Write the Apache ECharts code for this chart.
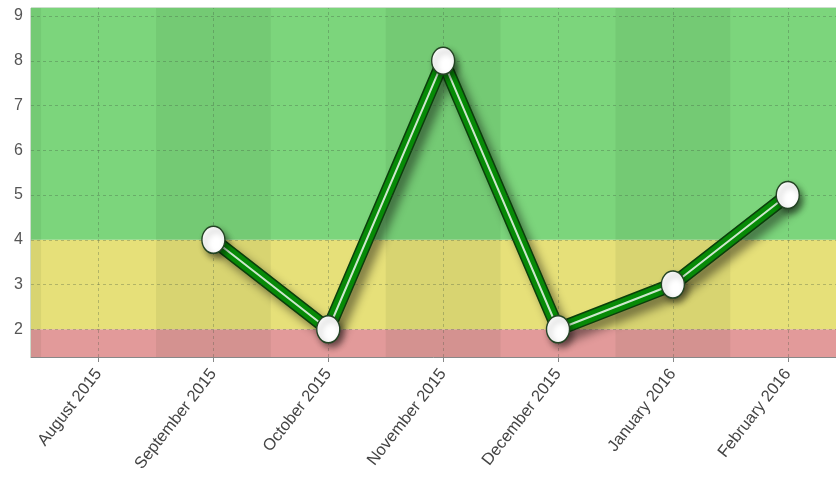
<!DOCTYPE html>
<html>
<head>
<meta charset="utf-8">
<script src="https://cdn.jsdelivr.net/npm/echarts@6/dist/echarts.min.js"></script>
<style>
html,body{margin:0;padding:0;background:#fff;}
#c{width:836px;height:478px;}
</style>
</head>
<body>
<div id="c"></div>
<script>
// ---- data ----
const months = ['August 2015','September 2015','October 2015','November 2015','December 2015','January 2016','February 2016'];
const values = [null, 4, 2, 8, 2, 3, 5];
const yTicks = [2,3,4,5,6,7,8,9];
const xTicks = [0,1,2,3,4,5,6];
const zoneEdges = [2, 4];          // red < 2 <= yellow < 4 <= green

// ---- layout constants ----
const X_MIN = -0.588, X_MAX = 6.42;
const Y_MIN = 1.38, Y_MAX = 9.18;

const seriesData = values.map((v, i) => [i, v]);

const bandColors = ['#e29a9a', '#e6e079', '#7cd57c'];
const zoneBounds = [Y_MIN, zoneEdges[0], zoneEdges[1], Y_MAX];
const bands = [];
for (let k = 0; k < 3; k++) {
  bands.push([
    { xAxis: X_MIN, yAxis: zoneBounds[k], itemStyle: { color: bandColors[k] } },
    { xAxis: X_MAX, yAxis: zoneBounds[k + 1] }
  ]);
}
// darker alternating columns centered on categories
const darkCols = [];
for (let i = -1; i <= 7; i += 2) {
  const a = Math.max(X_MIN, i - 0.5), b = Math.min(X_MAX, i + 0.5);
  if (b > a) darkCols.push([
    { xAxis: a, yAxis: Y_MIN, itemStyle: { color: 'rgba(0,40,0,0.06)' } },
    { xAxis: b, yAxis: Y_MAX }
  ]);
}

const gridLineStyle = { type: [3, 3], color: 'rgba(60,80,60,0.3)', width: 1 };
const gridLines = [];
xTicks.forEach(x => gridLines.push({ xAxis: x }));
yTicks.forEach(y => gridLines.push({ yAxis: y }));

const chart = echarts.init(document.getElementById('c'), null, { renderer: 'canvas' });
chart.setOption({
  animation: false,
  backgroundColor: '#ffffff',
  grid: { left: 31, right: 0, top: 8, bottom: 121, show: true, borderColor: 'rgba(60,120,60,0.5)', borderWidth: 1, backgroundColor: 'transparent' },
  xAxis: {
    type: 'value', min: X_MIN, max: X_MAX,
    axisLine: { show: true, onZero: false, lineStyle: { color: '#888' } },
    axisTick: { show: true, customValues: xTicks, length: 5, lineStyle: { color: '#888' } },
    splitLine: { show: false },
    axisLabel: {
      customValues: xTicks,
      rotate: 52, margin: 14,
      color: '#444', fontSize: 16.5, fontFamily: 'Liberation Sans, Arial, sans-serif',
      formatter: v => months[Math.round(v)]
    }
  },
  yAxis: {
    type: 'value', min: Y_MIN, max: Y_MAX,
    axisLine: { show: true, lineStyle: { color: '#888' } },
    axisTick: { show: true, customValues: yTicks, length: 4, lineStyle: { color: '#888' } },
    splitLine: { show: false },
    axisLabel: {
      customValues: yTicks, margin: 8,
      color: '#555', fontSize: 16, fontFamily: 'Liberation Sans, Arial, sans-serif'
    }
  },
  series: [
    {
      type: 'line', z: 1, data: seriesData, symbol: 'none', silent: true,
      lineStyle: { opacity: 0 },
      markArea: { silent: true, data: bands.concat(darkCols) },
      markLine: { silent: true, symbol: 'none', label: { show: false }, lineStyle: gridLineStyle, data: gridLines }
    },
    {
      type: 'line', z: 3, data: seriesData, symbol: 'none', silent: true,
      lineStyle: { width: 14, color: '#0b3f0b', shadowColor: 'rgba(0,0,0,0.45)', shadowBlur: 10, shadowOffsetX: 6, shadowOffsetY: 7, join: 'round', cap: 'round' }
    },
    {
      type: 'line', z: 4, data: seriesData, symbol: 'none', silent: true,
      lineStyle: { width: 11, color: '#078a07', join: 'round', cap: 'round' }
    },
    {
      type: 'line', z: 5, data: seriesData, silent: true,
      symbol: 'circle', symbolSize: [23, 27],
      itemStyle: { color: '#ffffff', borderColor: '#244424', borderWidth: 1.5, shadowColor: 'rgba(0,0,0,0.4)', shadowBlur: 6, shadowOffsetX: 3, shadowOffsetY: 4 },
      lineStyle: { width: 2, color: 'rgba(255,255,255,0.8)', join: 'round' }
    }
  ]
});
</script>
</body>
</html>
